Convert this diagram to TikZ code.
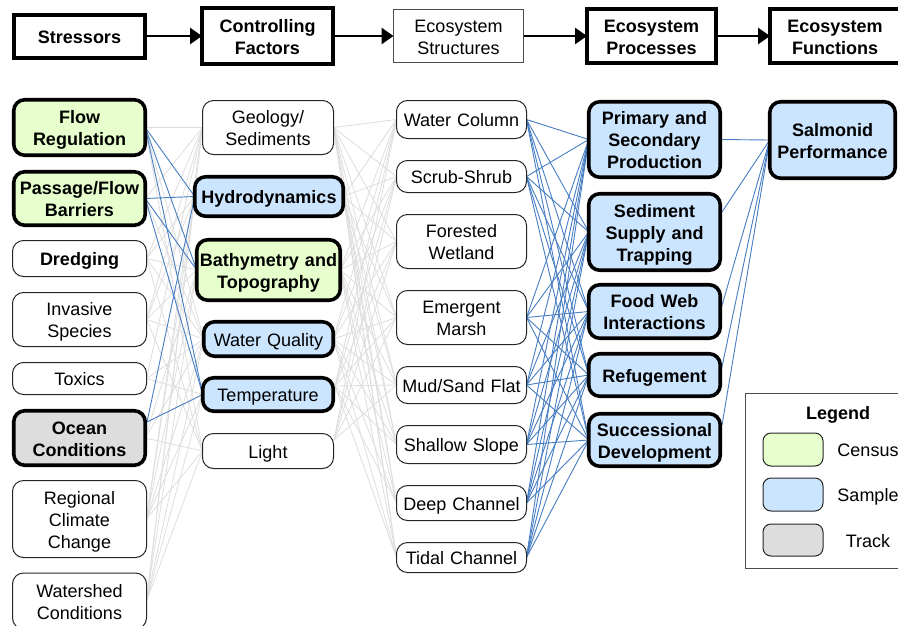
\documentclass[tikz,border=0pt]{standalone}
\usepackage{fontspec}
\setmainfont{Liberation Sans}
\usetikzlibrary{arrows.meta,backgrounds}
\definecolor{cgreen}{RGB}{230,255,204}
\definecolor{cblue}{RGB}{204,229,255}
\definecolor{cgrey}{RGB}{221,221,221}
\definecolor{lblue}{RGB}{70,125,195}
\definecolor{lgrey}{RGB}{222,222,222}
% #1 name, #2 style, #3 cx, #4 cy, #5 width, #6 height, #7 number of lines, #8 text
\newcommand\bx[8]{%
  \pgfmathsetmacro\bxH{#6/2+7.45-11*(#7-1)}%
  \pgfmathsetmacro\bxD{#6-\bxH}%
  \node[#2, text width=#5pt, text height=\bxH pt, text depth=\bxD pt] (#1) at (#3,#4) {#8};%
}
\begin{document}
\begin{tikzpicture}[x=1pt,y=-1pt,
 every node/.style={font=\fontsize{18}{22}\selectfont, align=center, inner sep=0pt, outer sep=0pt, text=black},
 rb/.style={draw, rounded corners=11pt},
 thinbox/.style={rb, line width=1pt, draw=black!85, fill=white},
 thickbox/.style={rb, line width=3.6pt},
 bf/.style={font=\fontsize{18}{22}\selectfont\bfseries},
 census/.style={fill=cgreen}, sample/.style={fill=cblue}, track/.style={fill=cgrey},
 hdr/.style={draw, line width=4pt, fill=white, bf},
 gl/.style={draw=lgrey, line width=0.8pt},
 bl/.style={draw=lblue, line width=0.9pt},
 harrow/.style={line width=2.8pt, -{Triangle[length=12pt,width=16pt]}},
]
\useasboundingbox (0,0) rectangle (898,625);
% header
\bx{hS}{hdr}{79.5}{36}{131}{43}{1}{Stressors}
\bx{hC}{hdr}{267.5}{36}{131}{56}{2}{Controlling\\Factors}
\bx{hE}{draw=black!70, line width=1pt, fill=white}{458.5}{36}{130}{53}{2}{Ecosystem\\Structures}
\bx{hP}{hdr}{651.5}{36}{129}{54}{2}{Ecosystem\\Processes}
\bx{hF}{hdr}{835}{36}{130}{54}{2}{Ecosystem\\Functions}
\draw[harrow] (hS.east) -- (hC.west);
\draw[harrow] (hC.east) -- (hE.west);
\draw[harrow] (hE.east) -- (hP.west);
\draw[harrow] (hP.east) -- (hF.west);
% column 1: stressors
\bx{FR}{thickbox, census, bf}{79.5}{127.5}{131.5}{55.5}{2}{Flow\\Regulation}
\bx{PB}{thickbox, census, bf}{79.5}{198.5}{131.5}{53.5}{2}{Passage/Flow\\Barriers}
\bx{DR}{thinbox, bf}{79.5}{258.5}{134}{36}{1}{Dredging}
\bx{IS}{thinbox}{79.5}{319.5}{134}{54}{2}{Invasive\\Species}
\bx{TX}{thinbox}{79.5}{378.5}{134}{32}{1}{Toxics}
\bx{OC}{thickbox, track, bf}{79.5}{438}{131.5}{54.5}{2}{Ocean\\Conditions}
\bx{RC}{thinbox}{79.5}{519}{134}{77}{3}{Regional\\Climate\\Change}
\bx{WS}{thinbox}{79.5}{601}{134}{56}{2}{Watershed\\Conditions}
\coordinate (OCb) at (147,422);
% column 2: controlling factors
\bx{GE}{thinbox}{268}{127.5}{131}{54}{2}{Geology/\\Sediments}
\bx{HY}{thickbox, sample, bf}{269}{196.5}{148.5}{39.5}{1}{Hydrodynamics}
\bx{BA}{thickbox, census, bf}{268.5}{270}{143.5}{60.5}{2}{Bathymetry and\\Topography}
\bx{WQ}{thickbox, sample}{268.5}{339}{129.5}{34.5}{1}{Water Quality}
\bx{TE}{thickbox, sample}{268}{394.5}{130.5}{33.5}{1}{Temperature}
\bx{LI}{thinbox}{268}{451}{131}{35}{1}{Light}
\coordinate (TEr) at (335,386);
\coordinate (LIr) at (334,440);
% column 3: ecosystem structures
\bx{WC}{thinbox}{461.5}{119.5}{130}{38}{1}{Water Column}
\bx{SS}{thinbox}{461.5}{176.5}{130}{32}{1}{Scrub-Shrub}
\bx{FW}{thinbox}{461.5}{241.5}{130}{54}{2}{Forested\\Wetland}
\bx{EM}{thinbox}{461.5}{317.5}{130}{54}{2}{Emergent\\Marsh}
\bx{MS}{thinbox}{461.5}{385}{130}{37}{1}{Mud/Sand Flat}
\bx{SL}{thinbox}{461.5}{444.5}{130}{38}{1}{Shallow Slope}
\bx{DC}{thinbox}{461.5}{503}{130}{35}{1}{Deep Channel}
\bx{TC}{thinbox}{461.5}{557.5}{130}{30}{1}{Tidal Channel}
% column 4: ecosystem processes
\bx{PP}{thickbox, sample, bf}{654.5}{139.5}{131.5}{75.5}{3}{Primary and\\Secondary\\Production}
\bx{ST}{thickbox, sample, bf}{654.5}{232}{131.5}{76.5}{3}{Sediment\\Supply and\\Trapping}
\bx{FI}{thickbox, sample, bf}{654.5}{311.5}{131.5}{53.5}{2}{Food Web\\Interactions}
\bx{RF}{thickbox, sample, bf}{654.5}{375}{131.5}{42.5}{1}{Refugement}
\bx{SD}{thickbox, sample, bf}{654.5}{440}{131.5}{52.5}{2}{Successional\\Development}
\coordinate (STr) at (722,212);
\coordinate (SDr) at (722,425);
% column 5
\bx{SP}{thickbox, sample, bf}{832.5}{140}{125.5}{76.5}{2}{Salmonid\\Performance}
% legend
\node[draw=black!70, line width=1pt, fill=white, minimum width=170pt, minimum height=175pt, anchor=north west] (LG) at (745,393) {};
\bx{LGt}{bf}{838}{412}{80}{20}{1}{Legend}
\node[thinbox, census, rounded corners=8pt, minimum width=60pt, minimum height=33pt] (L1) at (793,449.5) {};
\node[thinbox, sample, rounded corners=8pt, minimum width=60pt, minimum height=33pt] (L2) at (793,494.5) {};
\node[thinbox, track, rounded corners=8pt, minimum width=60pt, minimum height=32pt] (L3) at (793,540) {};
\bx{L1t}{}{868}{449.5}{70}{20}{1}{Census}
\bx{L2t}{}{868}{494.5}{70}{20}{1}{Sample}
\bx{L3t}{}{868}{540}{70}{20}{1}{Track}
% connectors
\begin{scope}[on background layer]
 \fill[white] (0,0) rectangle (898,625);
 % stressors -> controlling factors (grey)
 \foreach \a/\b in {FR/GE,FR/WQ,FR/LI,PB/GE,PB/WQ,DR/GE,DR/HY,DR/BA,DR/WQ,DR/LI,
   IS/GE,IS/HY,IS/BA,IS/WQ,IS/LI,TX/GE,TX/WQ,TX/TE,OC/BA,OC/WQ,OC/LI,
   RC/GE,RC/HY,RC/BA,RC/WQ,RC/TE,RC/LI,WS/GE,WS/HY,WS/BA,WS/WQ,WS/TE,WS/LI}
   \draw[gl] (\a.east) -- (\b.west);
 % controlling factors -> structures (grey)
 \foreach \a in {GE.east,HY.east,BA.east,WQ.east,TEr}
   \foreach \b in {WC,SS,FW,EM,MS,SL,DC,TC}
     \draw[gl] (\a) -- (\b.west);
 \foreach \b in {WC,SS,FW,EM,MS}
   \draw[gl] (LIr) -- (\b.west);
 % stressors -> controlling factors (blue)
 \foreach \a/\b in {FR/HY,FR/BA,FR/TE,PB/HY,PB/BA,PB/TE}
   \draw[bl] (\a.east) -- (\b.west);
 \draw[bl] (OCb) -- (HY.west);
 \draw[bl] (OCb) -- (TE.west);
 % structures -> processes (blue)
 \foreach \a in {WC,SS,EM,MS,SL,DC,TC}
   \foreach \b in {PP,ST,FI,RF,SD}
     \draw[bl] (\a.east) -- (\b.west);
 % processes -> function
 \foreach \a in {PP.east,STr,FI.east,RF.east,SDr}
   \draw[bl] (\a) -- (SP.west);
\end{scope}
\end{tikzpicture}
\end{document}
